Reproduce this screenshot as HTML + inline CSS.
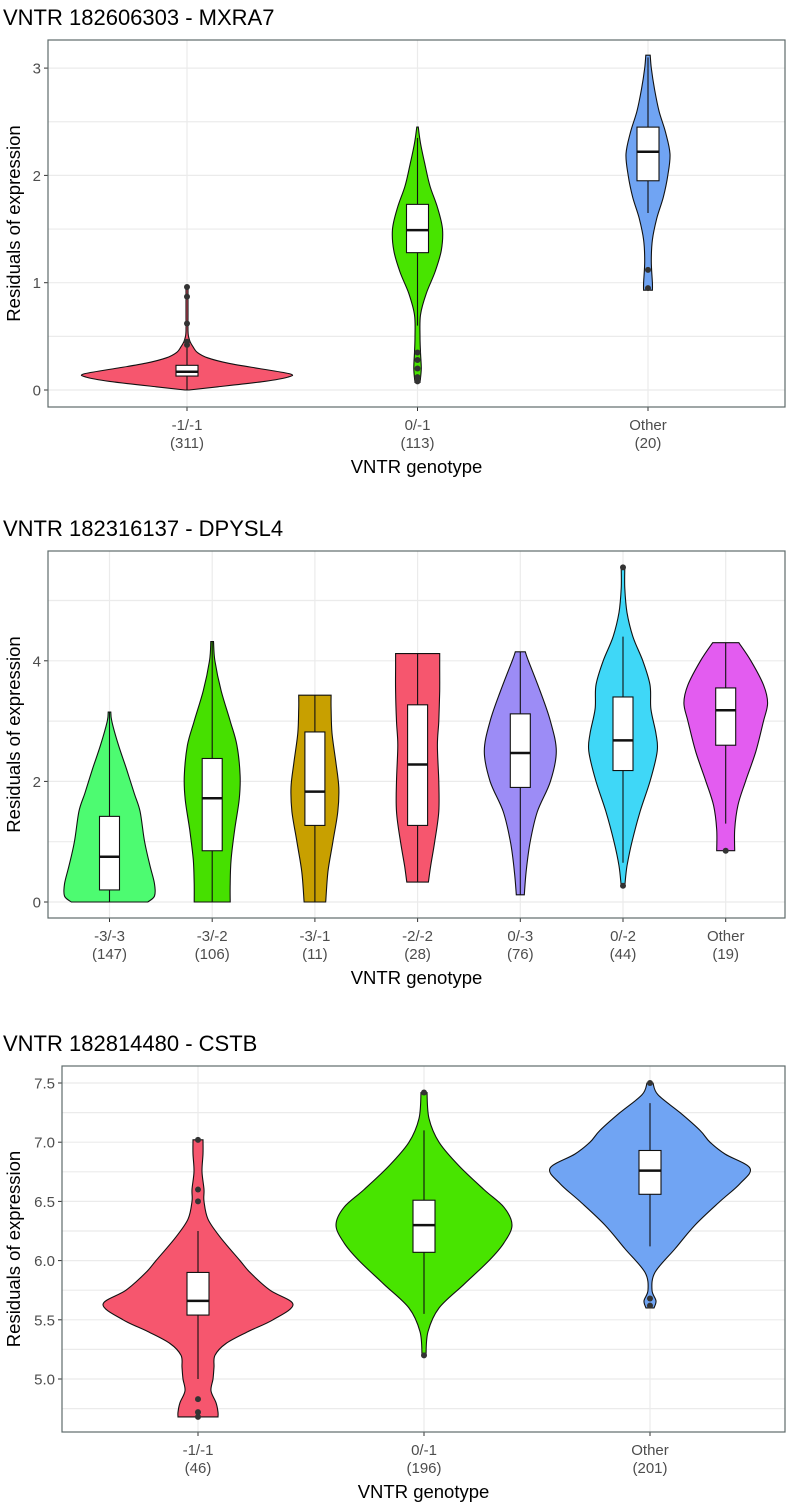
<!DOCTYPE html>
<html><head><meta charset="utf-8"><style>
html,body{margin:0;padding:0;background:#fff;}
svg{display:block;font-family:"Liberation Sans",Arial,sans-serif;}
</style></head><body>
<svg id="chart" width="790" height="1508" viewBox="0 0 790 1508" xmlns="http://www.w3.org/2000/svg"></svg>
<script>
// ---- Panel 1 data ----
const p1Categories = ["-1/-1","0/-1","Other"];
const p1Counts = ["(311)","(113)","(20)"];
const p1Ticks = [0,1,2,3];
const p1TickLabels = ["0","1","2","3"];
const p1Ys = [
  [0,0.03,0.08,0.12,0.15,0.2,0.25,0.3,0.35,0.4,0.45,0.5,0.55,0.7,0.85,0.96],
  [0.07,0.2,0.35,0.5,0.7,0.9,1.1,1.3,1.5,1.7,1.9,2.1,2.3,2.45],
  [0.93,1.0,1.2,1.4,1.6,1.8,2.0,2.2,2.4,2.6,2.8,3.0,3.12]];
const p1Density = [
  [0.02,0.3,0.75,0.98,1.0,0.7,0.4,0.2,0.1,0.06,0.03,0.015,0.01,0.01,0.01,0.01],
  [0.1,0.15,0.12,0.1,0.12,0.35,0.7,0.95,1.0,0.8,0.5,0.3,0.12,0.03],
  [0.2,0.2,0.15,0.2,0.4,0.7,0.9,1.0,0.8,0.5,0.3,0.15,0.1]];
const p1Boxes = [[0,0.13,0.17,0.23,0.4],[0.6,1.28,1.49,1.73,2.35],[1.65,1.95,2.22,2.45,3.1]];
const p1Outliers = [[0.42,0.45,0.62,0.87,0.96],[0.08,0.12,0.2,0.28,0.35],[0.95,1.12]];
// ---- Panel 2 data ----
const p2Categories = ["-3/-3","-3/-2","-3/-1","-2/-2","0/-3","0/-2","Other"];
const p2Counts = ["(147)","(106)","(11)","(28)","(76)","(44)","(19)"];
const p2Ticks = [0,2,4];
const p2TickLabels = ["0","2","4"];
const p2Ys = [
  [0,0.1,0.3,0.6,1.0,1.5,1.8,2.2,2.6,3.0,3.15],
  [0,0.3,0.7,1.2,1.7,2.1,2.6,3.0,3.5,4.0,4.32],
  [0,0.5,1.0,1.5,1.9,2.3,2.8,3.2,3.43],
  [0.33,0.6,1.0,1.5,2.0,2.6,3.0,3.5,3.9,4.12],
  [0.12,0.5,1.0,1.5,2.0,2.5,3.0,3.5,4.0,4.15],
  [0.27,0.6,1.0,1.5,2.0,2.5,2.8,3.2,3.6,4.0,4.4,4.8,5.2,5.55],
  [0.85,1.2,1.6,2.0,2.5,3.0,3.3,3.6,4.0,4.3]];
const p2Density = [
  [0.85,1.0,1.0,0.9,0.78,0.68,0.55,0.38,0.2,0.05,0.03],
  [0.4,0.4,0.42,0.5,0.6,0.62,0.55,0.4,0.2,0.06,0.03],
  [0.24,0.29,0.4,0.51,0.53,0.47,0.38,0.36,0.36],
  [0.24,0.29,0.38,0.47,0.47,0.44,0.47,0.49,0.49,0.49],
  [0.09,0.13,0.22,0.38,0.67,0.8,0.67,0.44,0.18,0.11],
  [0.04,0.09,0.2,0.38,0.6,0.76,0.73,0.62,0.6,0.44,0.22,0.09,0.04,0.04],
  [0.2,0.2,0.27,0.44,0.67,0.84,0.93,0.84,0.56,0.29]];
const p2Boxes = [[0,0.2,0.75,1.42,3.15],[0,0.85,1.72,2.38,4.32],[0,1.27,1.83,2.82,3.43],[0.33,1.27,2.28,3.27,4.12],[0.12,1.9,2.47,3.12,4.15],[0.65,2.18,2.68,3.4,4.4],[1.3,2.6,3.18,3.55,4.3]];
const p2Outliers = [[],[],[],[],[],[0.27,5.55],[0.85]];
// ---- Panel 3 data ----
const p3Categories = ["-1/-1","0/-1","Other"];
const p3Counts = ["(46)","(196)","(201)"];
const p3Ticks = [5.0,5.5,6.0,6.5,7.0,7.5];
const p3TickLabels = ["5.0","5.5","6.0","6.5","7.0","7.5"];
const p3Ys = [
  [4.68,4.72,4.8,4.9,5.0,5.1,5.2,5.3,5.4,5.5,5.63,5.75,5.9,6.0,6.2,6.35,6.5,6.6,6.75,6.9,7.02],
  [5.2,5.4,5.6,5.8,6.0,6.15,6.3,6.45,6.6,6.8,7.0,7.2,7.42],
  [5.6,5.66,5.75,5.9,6.1,6.3,6.5,6.65,6.78,6.9,7.0,7.1,7.25,7.4,7.5]];
const p3Density = [
  [0.2,0.2,0.18,0.13,0.15,0.16,0.17,0.28,0.5,0.75,0.95,0.72,0.52,0.42,0.22,0.1,0.06,0.06,0.04,0.05,0.05],
  [0.02,0.04,0.15,0.4,0.65,0.8,0.88,0.8,0.6,0.35,0.15,0.05,0.03],
  [0.04,0.06,0.02,0.05,0.25,0.45,0.7,0.9,1.0,0.75,0.6,0.5,0.3,0.08,0.03]];
const p3Boxes = [[5.0,5.54,5.66,5.9,6.25],[5.55,6.07,6.3,6.51,7.1],[6.12,6.56,6.76,6.93,7.33]];
const p3Outliers = [[4.68,4.72,4.83,6.5,6.6,7.02],[5.2,7.42],[5.62,5.68,7.5]];

const NS = "http://www.w3.org/2000/svg";
const svg = document.getElementById("chart");
function mk(tag, attrs, parent, text){
  const e = document.createElementNS(NS, tag);
  for (const k in attrs) e.setAttribute(k, attrs[k]);
  if (text !== undefined) e.textContent = text;
  (parent||svg).appendChild(e);
  return e;
}
function smooth(pts){
  let d = "M"+pts[0][0].toFixed(1)+","+pts[0][1].toFixed(1);
  for (let i=0;i<pts.length-1;i++){
    const p0=pts[Math.max(0,i-1)],p1=pts[i],p2=pts[i+1],p3=pts[Math.min(pts.length-1,i+2)];
    const c1=[p1[0]+(p2[0]-p0[0])/6,p1[1]+(p2[1]-p0[1])/6];
    const c2=[p2[0]-(p3[0]-p1[0])/6,p2[1]-(p3[1]-p1[1])/6];
    d+=" C"+c1[0].toFixed(1)+","+c1[1].toFixed(1)+" "+c2[0].toFixed(1)+","+c2[1].toFixed(1)+" "+p2[0].toFixed(1)+","+p2[1].toFixed(1);
  }
  return d;
}
function panel(cfg){
  const g = mk("g",{});
  
  
  const yS = v => cfg.y0px - (v - cfg.y0val)*cfg.ppu;
  const n = cfg.cats.length;
  const xS = i => cfg.xFirst + i*cfg.xStep;
  const t = mk("text",{x:3,y:cfg.top-15,"font-size":22,fill:"#000"},g,cfg.title);
  
  
  mk("rect",{x:cfg.left,y:cfg.top,width:cfg.right-cfg.left,height:cfg.bottom-cfg.top,fill:"#fff"},g);
  const step = cfg.ticks[1]-cfg.ticks[0];
  for (let v=cfg.ticks[0]-step*2; v<=cfg.ticks[cfg.ticks.length-1]+step*2; v+=step/2){
    const y=yS(v); if (y<=cfg.top||y>=cfg.bottom) continue;
    mk("line",{x1:cfg.left,x2:cfg.right,y1:y,y2:y,stroke:"#ebebeb","stroke-width":1.2},g);
  }
  for (let i=0;i<n;i++) mk("line",{x1:xS(i),x2:xS(i),y1:cfg.top,y2:cfg.bottom,stroke:"#ebebeb","stroke-width":1.2},g);
  cfg.ticks.forEach((v,i)=>{
    const y=yS(v);
    mk("line",{x1:cfg.left-4,x2:cfg.left,y1:y,y2:y,stroke:"#333","stroke-width":1},g);
    const tl=mk("text",{x:cfg.left-7,y:y+5.5,"font-size":15,fill:"#4d4d4d","text-anchor":"end"},g,cfg.tickLabels[i]);
    
    
  });
  for (let i=0;i<n;i++){
    const cx=xS(i), ys=cfg.ys[i], ws=cfg.dens[i], mh=cfg.maxHalf[i];
    const right=ys.map((v,k)=>[cx+ws[k]*mh,yS(v)]);
    const left=ys.map((v,k)=>[cx-ws[k]*mh,yS(v)]).reverse();
    const top = yS(ys[ys.length-1]);
    const path = smooth(right)+" L"+left[0][0].toFixed(1)+","+top.toFixed(1)+" "+smooth(left).replace(/^M/,"L")+" Z";
    const vp=mk("path",{d:path,fill:cfg.colors[i],stroke:"#111","stroke-width":1.1},g);
    
    
    const b=cfg.boxes[i], bw=cfg.boxHalf;
    mk("line",{x1:cx,x2:cx,y1:yS(b[0]),y2:yS(b[4]),stroke:"#111","stroke-width":1.1},g);
    const br=mk("rect",{x:cx-bw,y:yS(b[3]),width:2*bw,height:yS(b[1])-yS(b[3]),fill:"#fff",stroke:"#111","stroke-width":1.1},g);
    
    
    mk("line",{x1:cx-bw,x2:cx+bw,y1:yS(b[2]),y2:yS(b[2]),stroke:"#111","stroke-width":2.5},g);
    cfg.outs[i].forEach(v=>{
      const c=mk("circle",{cx:cx,cy:yS(v),r:3,fill:"#333"},g);
      
      
    });
    mk("line",{x1:cx,x2:cx,y1:cfg.bottom,y2:cfg.bottom+4,stroke:"#333","stroke-width":1},g);
    const l1=mk("text",{x:cx,y:cfg.bottom+23,"font-size":15,fill:"#4d4d4d","text-anchor":"middle"},g,cfg.cats[i]);
    
    
    const l2=mk("text",{x:cx,y:cfg.bottom+41,"font-size":15,fill:"#4d4d4d","text-anchor":"middle"},g,cfg.counts[i]);
    
    
  }
  mk("rect",{x:cfg.left,y:cfg.top,width:cfg.right-cfg.left,height:cfg.bottom-cfg.top,fill:"none",stroke:"#5f6b6b","stroke-width":1.2},g);
  const xt=mk("text",{x:(cfg.left+cfg.right)/2,y:cfg.bottom+66,"font-size":18.5,fill:"#000","text-anchor":"middle"},g,"VNTR genotype");
  
  
  const cy=(cfg.top+cfg.bottom)/2;
  const yt=mk("text",{x:20,y:cy,"font-size":18.5,fill:"#000","text-anchor":"middle",transform:"rotate(-90 20 "+cy+")"},g,"Residuals of expression");
  
  
}
panel({name:"panel-mxra7",title:"VNTR 182606303 - MXRA7",left:48,right:785,top:40,bottom:407,y0val:0,y0px:390,ppu:107.3,
  ticks:p1Ticks,tickLabels:p1TickLabels,cats:p1Categories,counts:p1Counts,xFirst:187,xStep:230.5,
  ys:p1Ys,dens:p1Density,boxes:p1Boxes,outs:p1Outliers,maxHalf:[103,25,22],boxHalf:11,
  colors:["#F6566E","#48E400","#70A4F3"]});
panel({name:"panel-dpysl4",title:"VNTR 182316137 - DPYSL4",left:48,right:785,top:551,bottom:918,y0val:0,y0px:902,ppu:60.3,
  ticks:p2Ticks,tickLabels:p2TickLabels,cats:p2Categories,counts:p2Counts,xFirst:109.5,xStep:102.7,
  ys:p2Ys,dens:p2Density,boxes:p2Boxes,outs:p2Outliers,maxHalf:[45,45,45,45,45,45,45],boxHalf:10,
  colors:["#4DFB71","#46E000","#C8A000","#F6566E","#9C8CF6","#3FD7F7","#E35CF0"]});
panel({name:"panel-cstb",title:"VNTR 182814480 - CSTB",left:62,right:785,top:1066,bottom:1432,y0val:5.0,y0px:1379,ppu:118.4,
  ticks:p3Ticks,tickLabels:p3TickLabels,cats:p3Categories,counts:p3Counts,xFirst:198,xStep:226,
  ys:p3Ys,dens:p3Density,boxes:p3Boxes,outs:p3Outliers,maxHalf:[100,100,100],boxHalf:11,
  colors:["#F6566E","#48E400","#70A4F3"]});
</script>
</body></html>
